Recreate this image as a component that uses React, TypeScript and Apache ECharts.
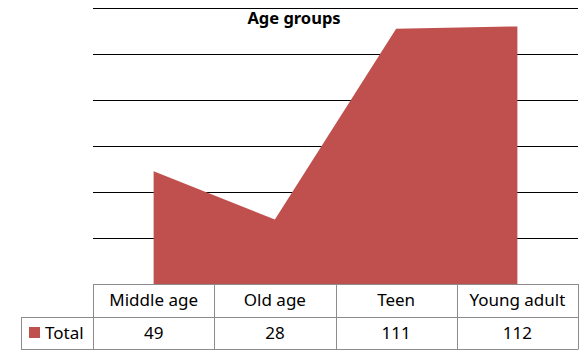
import React, { useEffect, useRef } from "react";
import * as echarts from "echarts";

const categories = ["Middle age", "Old age", "Teen", "Young adult"];
const totals = [49, 28, 111, 112];
const seriesName = "Total";
const yMin = 0;
const yMax = 120;
const yStep = 20;

const W = 588;
const H = 354;
const GL = 93;
const GR = 578;
const GT = 8;
const GB = 284;
const ROW = 32.5;
const COLOR = "#C0504D";
const BORDER = "#8c8c8c";
const FONT = "'Noto Sans', 'Liberation Sans', sans-serif";
const FS = 17;

export default function App() {
  const ref = useRef<HTMLDivElement>(null);
  useEffect(() => {
    if (!ref.current) return;
    const chart = echarts.init(ref.current, undefined, { renderer: "svg" });
    const r1 = GB + ROW;
    const r2 = GB + 2 * ROW;
    const colW = (GR - GL) / categories.length;
    const lines: any[] = [];
    const hl = (x1: number, x2: number, y: number) =>
      lines.push({ type: "line", shape: { x1, y1: y, x2, y2: y }, style: { stroke: BORDER, lineWidth: 1 }, z: 10 });
    const vl = (x: number, y1: number, y2: number) =>
      lines.push({ type: "line", shape: { x1: x, y1, x2: x, y2 }, style: { stroke: BORDER, lineWidth: 1 }, z: 10 });
    hl(GL, GR, GB + 0.5);
    hl(21, GR, Math.round(r1) + 0.5);
    hl(21, GR, Math.round(r2) + 0.5);
    vl(21.5, Math.round(r1), Math.round(r2) + 0.5);
    for (let i = 0; i <= categories.length; i++) {
      const x = Math.round(GL + i * colW) + 0.5;
      vl(x, GB, Math.round(r2) + 0.5);
    }
    chart.setOption({
      animation: false,
      title: {
        text: "Age groups",
        left: "center",
        top: 4,
        textStyle: { fontFamily: FONT, fontSize: 16.5, fontWeight: "bold", color: "#000" },
      },
      grid: { left: GL, right: W - GR, top: GT, bottom: H - GB },
      xAxis: [
        {
          type: "category",
          data: categories,
          boundaryGap: true,
          axisLine: { show: false },
          axisTick: { show: false },
          axisLabel: { interval: 0, hideOverlap: false, margin: 7, fontFamily: FONT, fontSize: FS, color: "#000" },
        },
        {
          type: "category",
          position: "bottom",
          offset: ROW,
          data: totals.map(String),
          boundaryGap: true,
          axisLine: { show: false },
          axisTick: { show: false },
          axisLabel: { interval: 0, hideOverlap: false, margin: 7, fontFamily: FONT, fontSize: FS, color: "#000" },
        },
      ],
      yAxis: {
        type: "value",
        min: yMin,
        max: yMax,
        interval: yStep,
        axisLine: { show: false },
        axisTick: { show: false },
        axisLabel: { show: false },
        splitLine: { show: true, lineStyle: { color: "#000", width: 1 } },
      },
      series: [
        {
          name: seriesName,
          type: "line",
          data: totals,
          symbol: "none",
          lineStyle: { width: 0, color: COLOR },
          itemStyle: { color: COLOR },
          areaStyle: { color: COLOR, opacity: 1 },
          z: 5,
        },
      ],
      graphic: [
        ...lines,
        { type: "rect", shape: { x: 29, y: 327, width: 11, height: 11 }, style: { fill: COLOR }, z: 10 },
        {
          type: "text",
          x: 45,
          y: (r1 + r2) / 2,
          style: { text: seriesName, fontFamily: FONT, fontSize: FS, fill: "#000", verticalAlign: "middle" },
          z: 10,
        },
      ],
    });
    return () => chart.dispose();
  }, []);
  return <div ref={ref} style={{ width: W, height: H, position: "absolute", left: 0, top: 0 }} />;
}
